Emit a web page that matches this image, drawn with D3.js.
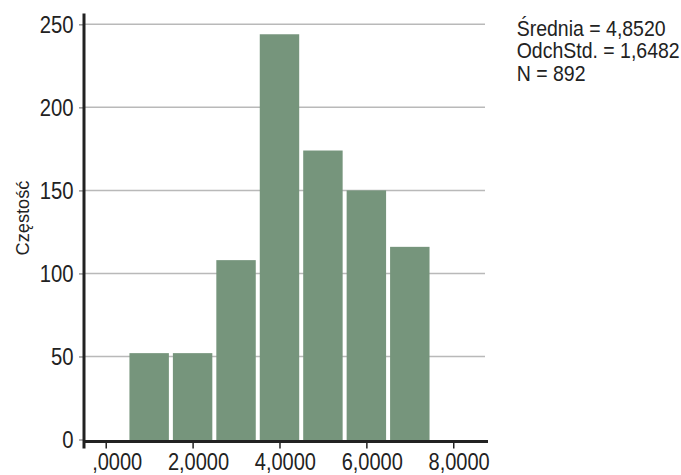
<!DOCTYPE html>
<html>
<head>
<meta charset="utf-8">
<script src="https://cdn.jsdelivr.net/npm/d3@7"></script>
<style>
  html, body { margin: 0; padding: 0; background: #fff; }
  svg text { font-family: "Liberation Sans", Arial, sans-serif; fill: #222; }
</style>
</head>
<body>
<svg id="chart" width="681" height="475"></svg>
<script>
// Histogram bins: centre of each unit-wide bin and its frequency
const binCenters = [1, 2, 3, 4, 5, 6, 7];
const frequencies = [52, 52, 108, 244, 174, 150, 116];

// Axis ticks
const yTicks = [0, 50, 100, 150, 200, 250];
const xTicks = [0, 2, 4, 6, 8];
const xTickLabels = [",0000", "2,0000", "4,0000", "6,0000", "8,0000"];

// Summary statistics shown beside the plot
const statLines = ["Średnia = 4,8520", "OdchStd. = 1,6482", "N = 892"];
const yTitle = "Częstość";

// Condensed look: horizontal squeeze applied to axis labels
const SQUEEZE = 0.87;

const svg = d3.select("#chart");
const W = 681, H = 475;
svg.append("rect").attr("width", W).attr("height", H).attr("fill", "#fff");

const x = d3.scaleLinear().domain([-0.5, 8.8]).range([84, 488]);
const y = d3.scaleLinear().domain([0, 256.5]).range([439.5, 13.5]);

const gridRight = x.range()[1] - 3;

// Horizontal gridlines
svg.append("g").selectAll("line")
  .data(yTicks.filter(d => d > 0))
  .join("line")
  .attr("x1", x.range()[0]).attr("x2", gridRight)
  .attr("y1", d => y(d)).attr("y2", d => y(d))
  .attr("stroke", "#b9b9b9").attr("stroke-width", 1.5);

// Bars
const barColor = "#76957c";
svg.append("g").selectAll("rect")
  .data(binCenters.map((c, i) => ({ c, v: frequencies[i] })))
  .join("rect")
  .attr("x", d => x(d.c - 0.5) + 2)
  .attr("width", d => x(d.c + 0.5) - x(d.c - 0.5) - 4)
  .attr("y", d => y(d.v))
  .attr("height", d => y(0) - y(d.v) + 1)
  .attr("fill", barColor);

// Y axis: thick spine, short grey ticks, labels
const yTickSize = 5, yPad = 5.5;
const yAxis = d3.axisLeft(y).tickValues(yTicks).tickSize(yTickSize).tickPadding(yPad).tickFormat(d3.format("d"));
const gy = svg.append("g").attr("transform", `translate(${x.range()[0]},0)`).call(yAxis);
gy.select(".domain").remove();
gy.selectAll(".tick line").attr("stroke", "#999").attr("stroke-width", 1.5);
gy.selectAll(".tick text")
  .attr("font-family", null).attr("font-size", 23.3)
  .attr("x", 0).attr("dy", "0.35em")
  .attr("transform", `translate(${-(yTickSize + yPad)},0) scale(${SQUEEZE},1)`)
  .style("fill", "#222");

svg.append("line")
  .attr("x1", x.range()[0]).attr("x2", x.range()[0])
  .attr("y1", y.range()[1]).attr("y2", y(0) + 9)
  .attr("stroke", "#222").attr("stroke-width", 3);

// X axis: labels right-aligned a fixed distance past each tick
const xTickSize = 7, xLabelTop = 12.5, xLabelShift = 36;
const xAxis = d3.axisBottom(x).tickValues(xTicks).tickSize(xTickSize)
  .tickFormat((d, i) => xTickLabels[i]);
const gx = svg.append("g").attr("transform", `translate(0,${y(0) + 2})`).call(xAxis);
gx.select(".domain").remove();
gx.selectAll(".tick line").attr("stroke", "#222").attr("stroke-width", 1.5);
gx.selectAll(".tick text")
  .attr("font-family", null).attr("font-size", 23)
  .attr("y", 0).attr("dy", "0.71em")
  .attr("text-anchor", "end")
  .attr("transform", `translate(${xLabelShift},${xLabelTop}) scale(${SQUEEZE},1)`)
  .style("fill", "#222");

svg.append("line")
  .attr("x1", x.range()[0]).attr("x2", x.range()[1])
  .attr("y1", y(0) + 2).attr("y2", y(0) + 2)
  .attr("stroke", "#222").attr("stroke-width", 3);

// Y axis title
svg.append("text")
  .attr("transform", `translate(28.5,218) rotate(-90) scale(0.98,1)`)
  .attr("text-anchor", "middle")
  .attr("font-size", 18.6)
  .text(yTitle);

// Statistics block
svg.append("g").selectAll("text")
  .data(statLines)
  .join("text")
  .attr("transform", (d, i) => `translate(516.7,${36 + i * 22.3}) scale(0.89,1)`)
  .attr("font-size", 21.9)
  .text(d => d);
</script>
</body>
</html>
